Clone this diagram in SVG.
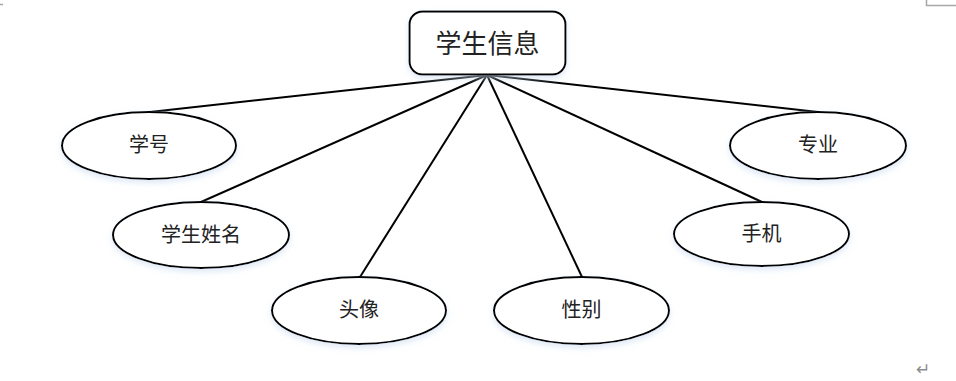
<svg xmlns="http://www.w3.org/2000/svg" width="956" height="381" viewBox="0 0 956 381">
<defs>
<style>
.shape{fill:#ffffff;stroke:#000000;stroke-width:2}
.lbl{font-family:"Noto Sans CJK SC","Noto Sans CJK JP",sans-serif;font-size:20px;fill:#222222;text-anchor:middle}
.title{font-size:26px}
.conn{stroke:#000000;stroke-width:2;fill:none}
.mark{stroke:#a6a6a6;stroke-width:1.5;fill:none}
</style>
<filter id="glow" x="-20%" y="-20%" width="140%" height="150%">
<feGaussianBlur in="SourceAlpha" stdDeviation="3"/>
<feOffset dx="0" dy="3" result="b"/>
<feFlood flood-color="#c9daf0" flood-opacity="0.6"/>
<feComposite in2="b" operator="in"/>
<feMerge><feMergeNode/><feMergeNode in="SourceGraphic"/></feMerge>
</filter>
</defs>
<rect width="956" height="381" fill="#ffffff"/>
<path class="mark" d="M0 4.5H3"/>
<path class="mark" d="M926.5 0V5.5H956"/>
<text x="923" y="375" font-family="DejaVu Sans, sans-serif" font-size="17" fill="#8c8c8c" text-anchor="middle">↵</text>
<g id="connectors">
<line class="conn" x1="487" y1="75" x2="150" y2="112"/>
<line class="conn" x1="487" y1="75" x2="201" y2="202"/>
<line class="conn" x1="487" y1="75" x2="360" y2="277"/>
<line class="conn" x1="487" y1="75" x2="582" y2="277"/>
<line class="conn" x1="487" y1="75" x2="762" y2="202"/>
<line class="conn" x1="487" y1="75" x2="818" y2="112"/>
</g>
<g id="root">
<rect class="shape" x="409.5" y="11.5" width="156" height="63" rx="13" filter="url(#glow)"/>
<text class="lbl title" x="487.5" y="53">学生信息</text>
</g>
<g id="xuehao">
<ellipse class="shape" cx="149" cy="145.5" rx="87" ry="33.5" filter="url(#glow)"/>
<text class="lbl" x="149" y="152">学号</text>
</g>
<g id="xingming">
<ellipse class="shape" cx="201" cy="235" rx="88" ry="33" filter="url(#glow)"/>
<text class="lbl" x="201" y="242">学生姓名</text>
</g>
<g id="touxiang">
<ellipse class="shape" cx="359" cy="310.5" rx="87" ry="33.5" filter="url(#glow)"/>
<text class="lbl" x="359" y="317">头像</text>
</g>
<g id="xingbie">
<ellipse class="shape" cx="581.5" cy="310.5" rx="87.5" ry="33.5" filter="url(#glow)"/>
<text class="lbl" x="581.5" y="317">性别</text>
</g>
<g id="shouji">
<ellipse class="shape" cx="761.5" cy="234" rx="87.5" ry="32" filter="url(#glow)"/>
<text class="lbl" x="761.5" y="241">手机</text>
</g>
<g id="zhuanye">
<ellipse class="shape" cx="818" cy="145.5" rx="88" ry="33.5" filter="url(#glow)"/>
<text class="lbl" x="818" y="152">专业</text>
</g>
</svg>
